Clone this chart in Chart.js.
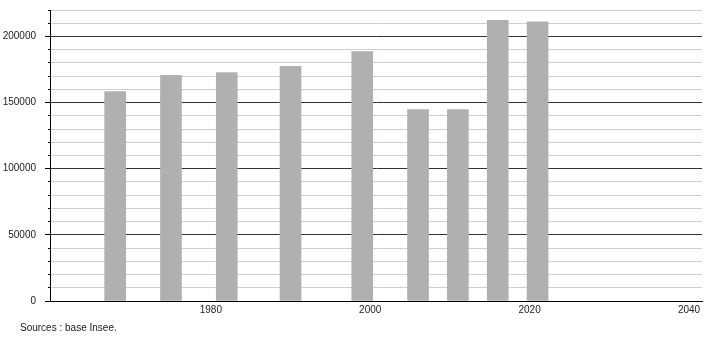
<!DOCTYPE html>
<html>
<head>
<meta charset="utf-8">
<script src="https://cdn.jsdelivr.net/npm/chart.js@4"></script>
<style>
  html, body { margin: 0; padding: 0; background: #fff; }
  #wrap { position: relative; width: 710px; height: 340px; }
  #src { position: absolute; left: 20px; top: 322px; font: 10px "Liberation Sans", Arial, sans-serif; color: #222; }
</style>
</head>
<body>
<div id="wrap">
  <canvas id="c" width="710" height="340"></canvas>
  <div id="src">Sources : base Insee.</div>
</div>
<script>
const years = [1968, 1975, 1982, 1990, 1999, 2006, 2011, 2016, 2021];
const population = [158300, 170700, 172700, 177500, 188600, 144700, 144700, 212100, 211100];
const xTickYears = [1980, 2000, 2020, 2040];
const yLabelStep = 50000;
const yGridStep = 10000;
const yMax = 220000;

const font = { family: "'Liberation Sans', Arial, sans-serif", size: 10 };

new Chart(document.getElementById('c'), {
  type: 'bar',
  data: {
    datasets: [{
      data: years.map((y, i) => ({ x: y, y: population[i] })),
      backgroundColor: '#b0b0b0',
      borderWidth: 0,
      barThickness: 21
    }]
  },
  options: {
    responsive: false,
    animation: false,
    layout: { padding: { top: 10, right: 8, left: 0, bottom: 0 } },
    plugins: { legend: { display: false }, tooltip: { enabled: false } },
    scales: {
      x: {
        type: 'linear',
        min: 1959.82,
        max: 2041.63,
        offset: false,
        grid: { display: false, drawTicks: false, offset: false },
        border: { display: true, color: '#000', width: 1 },
        afterBuildTicks: (s) => { s.ticks = xTickYears.map(v => ({ value: v })); },
        afterFit: (s) => { s.height = 39; s.paddingLeft = 0; s.paddingRight = 0; },
        ticks: { font, color: '#222', padding: 3, maxRotation: 0, autoSkip: false, callback: (v) => String(v) }
      },
      y: {
        min: 0,
        max: yMax,
        afterFit: (s) => { s.width = 50; s.paddingTop = 0; s.paddingBottom = 0; },
        border: { display: true, color: '#000', width: 1 },
        grid: {
          color: (ctx) => (ctx.tick && ctx.tick.value % yLabelStep === 0) ? '#333' : '#cfcfcf',
          tickColor: '#000',
          tickBorderDash: (ctx) => (ctx.tick && ctx.tick.value % yLabelStep === 0) ? [] : [0, 3, 2, 10],
          tickLength: 5
        },
        ticks: {
          stepSize: yGridStep,
          maxTicksLimit: 40,
          autoSkip: false,
          font, color: '#222', padding: 9,
          callback: (v) => v % yLabelStep === 0 ? String(v) : ''
        }
      }
    }
  }
});
</script>
</body>
</html>
